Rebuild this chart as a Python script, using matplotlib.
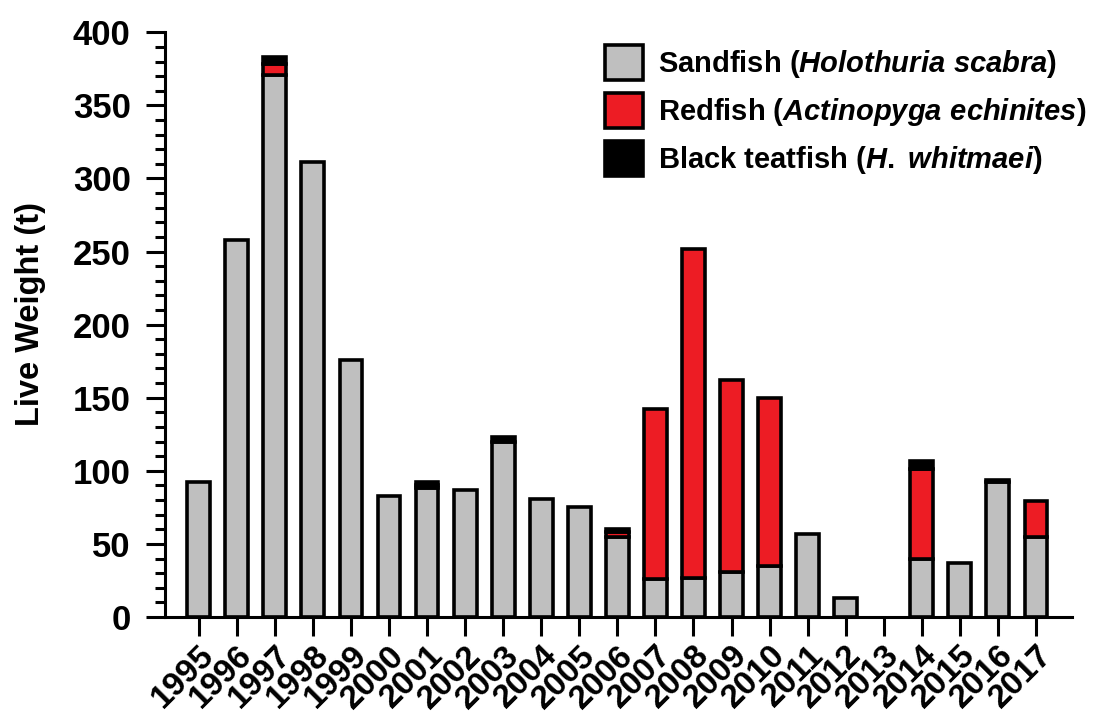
import numpy as np
import matplotlib
matplotlib.use("Agg")
import matplotlib.pyplot as plt
from matplotlib.patches import Patch
from matplotlib.ticker import MultipleLocator

plt.rcParams["font.family"] = ["Liberation Sans", "DejaVu Sans"]
plt.rcParams["mathtext.fontset"] = "custom"
plt.rcParams["mathtext.it"] = "Liberation Sans:bold:italic"
plt.rcParams["mathtext.rm"] = "Liberation Sans:bold"

# live weight (t) by year
years = [str(y) for y in range(1995, 2018)]
sandfish = [92, 258, 371, 311, 176, 83, 88, 87, 120, 81, 75, 55, 26, 27, 31, 35, 57, 13, 0, 40, 37, 92, 55]
redfish = [0, 0, 7, 0, 0, 0, 2, 0, 0, 0, 0, 3, 116, 225, 131, 115, 0, 0, 0, 61, 0, 0, 24]
teatfish = [0, 0, 5, 0, 0, 0, 2, 0, 3, 0, 0, 2, 0, 0, 0, 0, 0, 0, 0, 6, 0, 2, 0]

labels = [
    r"Sandfish ($\it{Holothuria\ scabra}$)",
    r"Redfish ($\it{Actinopyga\ echinites}$)",
    r"Black teatfish ($\it{H.}$ $\it{whitmaei}$)",
]
colors = ["#bfbfbf", "#ed1c24", "#000000"]

fig = plt.figure(figsize=(11.03, 7.17), dpi=100)
ax = fig.add_axes([0.150, 0.1395, 0.822, 0.8155])

x = np.arange(len(years))
sand = np.array(sandfish, dtype=float)
red = np.array(redfish, dtype=float)
blk = np.array(teatfish, dtype=float)
bottoms = [np.zeros_like(sand), sand, sand + red]
width = 0.6
lw = 2.6

for vals, bot, col in zip([sand, red, blk], bottoms, colors):
    m = vals > 0
    ax.bar(x[m], vals[m], width, bottom=bot[m], color=col, edgecolor="black",
           linewidth=lw, zorder=3)

ax.set_xlim(-0.875, 22.95)
ax.set_ylim(0, 400)
ax.yaxis.set_major_locator(MultipleLocator(50))
ax.yaxis.set_minor_locator(MultipleLocator(10))
ax.set_xticks(x)
ax.set_xticklabels(years, rotation=45, ha="right", va="top", rotation_mode="anchor",
                   fontsize=24, fontweight="bold")
for lab in ax.get_yticklabels():
    lab.set_fontsize(25)
    lab.set_fontweight("bold")

ax.tick_params(axis="both", which="major", direction="out", length=14, width=2.2)
ax.tick_params(axis="y", which="minor", direction="out", length=7, width=2.2)
ax.tick_params(axis="y", which="major", pad=11)
ax.tick_params(axis="x", which="major", pad=2.5)
ax.spines["top"].set_visible(False)
ax.spines["right"].set_visible(False)
ax.spines["left"].set_linewidth(2.2)
ax.spines["bottom"].set_linewidth(2.2)
ax.spines["left"].set_zorder(4)
ax.spines["bottom"].set_zorder(4)

fig.text(31 / 1103, 1 - 314 / 717, "Live Weight (t)", rotation=90, ha="center", va="center",
         fontsize=23.5, fontweight="bold")

handles = [Patch(facecolor=c, edgecolor="black", linewidth=lw) for c in colors]
ax.legend(handles, labels, loc="upper left", bbox_to_anchor=(605 / 1103, 1 - 45 / 717),
          bbox_transform=fig.transFigure, frameon=False, borderpad=0, borderaxespad=0,
          prop={"size": 21, "weight": "bold"}, handlelength=1.3, handleheight=1.45,
          labelspacing=0.45, handletextpad=0.51)

fig.savefig("out.png", dpi=100)
